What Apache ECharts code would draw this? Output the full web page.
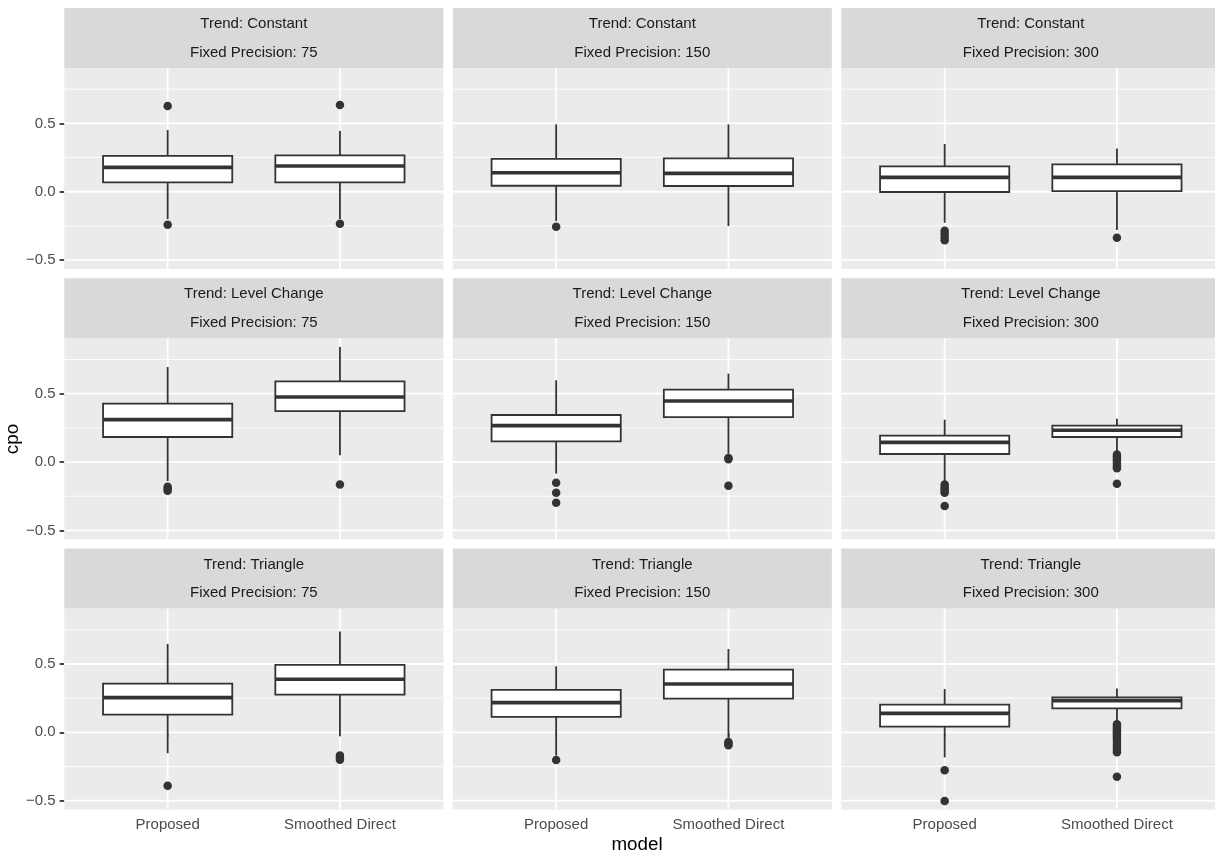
<!DOCTYPE html>
<html>
<head>
<meta charset="utf-8">
<script src="https://cdn.jsdelivr.net/npm/echarts@6/dist/echarts.min.js"></script>
<style>
html,body{margin:0;padding:0;background:#fff;}
#chart{width:1215px;height:856px;}
</style>
</head>
<body>
<div id="chart"></div>
<script>
// ---------------- data ----------------
const categories = ['Proposed', 'Smoothed Direct'];
const trends = ['Constant', 'Level Change', 'Triangle'];
const precisions = [75, 150, 300];
const yTicks = [-0.5, 0, 0.5];
const yMinorTicks = [-0.25, 0.25, 0.75];
const xTicks = [1, 2];

// box stats per panel: [lowerWhisker, Q1, median, Q3, upperWhisker] for Proposed, Smoothed Direct
const constant75 = [[-0.20, 0.069, 0.178, 0.263, 0.451], [-0.20, 0.069, 0.188, 0.266, 0.444]];
const constant150 = [[-0.214, 0.044, 0.139, 0.240, 0.493], [-0.251, 0.042, 0.134, 0.244, 0.493]];
const constant300 = [[-0.227, -0.002, 0.105, 0.186, 0.349], [-0.280, 0.005, 0.105, 0.200, 0.317]];
const level75 = [[-0.139, 0.183, 0.310, 0.427, 0.695], [0.049, 0.373, 0.476, 0.590, 0.841]];
const level150 = [[-0.085, 0.151, 0.266, 0.344, 0.598], [0.061, 0.329, 0.446, 0.530, 0.647]];
const level300 = [[-0.146, 0.059, 0.144, 0.193, 0.310], [0.069, 0.183, 0.232, 0.266, 0.317]];
const triangle75 = [[-0.153, 0.129, 0.254, 0.356, 0.647], [-0.029, 0.276, 0.388, 0.493, 0.737]];
const triangle150 = [[-0.170, 0.113, 0.217, 0.310, 0.483], [-0.048, 0.247, 0.354, 0.459, 0.610]];
const triangle300 = [[-0.183, 0.042, 0.139, 0.203, 0.317], [0.073, 0.176, 0.232, 0.256, 0.320]];

// outliers per panel: [Proposed values, Smoothed Direct values]
const constant75Out = [[0.627, -0.241], [0.634, -0.234]];
const constant150Out = [[-0.256], []];
const constant300Out = [[-0.285, -0.31, -0.335, -0.355], [-0.336]];
const level75Out = [[-0.18, -0.195, -0.21], [-0.165]];
const level150Out = [[-0.151, -0.224, -0.297], [0.03, 0.02, -0.173]];
const level300Out = [[-0.165, -0.18, -0.195, -0.21, -0.225, -0.322], [0.055, 0.04, 0.025, 0.01, -0.01, -0.03, -0.045, -0.158]];
const triangle75Out = [[-0.39], [-0.17, -0.185, -0.2]];
const triangle150Out = [[-0.202], [-0.07, -0.085, -0.095]];
const triangle300Out = [[-0.278, -0.502], [0.06, 0.045, 0.03, 0.015, 0, -0.015, -0.03, -0.05, -0.07, -0.09, -0.11, -0.13, -0.145, -0.325]];

const panelStats = [
  [constant75, constant150, constant300],
  [level75, level150, level300],
  [triangle75, triangle150, triangle300]
];
const panelOutliers = [
  [constant75Out, constant150Out, constant300Out],
  [level75Out, level150Out, level300Out],
  [triangle75Out, triangle150Out, triangle300Out]
];

// ---------------- layout ----------------
const LEFT0 = 64.3, PANEL_W = 379, GAP_X = 9.5;
const TOP0 = 8, STRIP_H = 60, PANEL_H = 201, GAP_Y = 9.3;
const Y_MIN = -0.565, Y_MAX = 0.905, X_MIN = 0.4, X_MAX = 2.6, BOX_HALF = 0.375;
const FONT = "'Liberation Sans', Arimo, Arial, Helvetica, sans-serif";
const TXT = 15, TITLE = 18.8;

const grids = [], xAxes = [], yAxes = [], series = [], graphics = [];
const fmtY = v => v.toFixed(1).replace('-', '\u2212');

let gi = 0;
for (let r = 0; r < 3; r++) {
  for (let c = 0; c < 3; c++) {
    const left = LEFT0 + c * (PANEL_W + GAP_X);
    const top = TOP0 + STRIP_H + r * (STRIP_H + PANEL_H + GAP_Y);
    grids.push({
      left: left, top: top, width: PANEL_W, height: PANEL_H,
      show: true, backgroundColor: '#ebebeb', borderWidth: 0,
      containLabel: false, outerBoundsMode: 'none'
    });
    xAxes.push({
      gridIndex: gi, type: 'value', min: X_MIN, max: X_MAX,
      axisLine: { show: false }, splitLine: { show: false },
      axisTick: { show: r === 2, customValues: xTicks, length: 4.7, lineStyle: { color: '#333333', width: 1.8 } },
      axisLabel: { show: r === 2, customValues: xTicks, formatter: v => categories[Math.round(v) - 1] || '',
        color: '#4d4d4d', fontSize: TXT, fontFamily: FONT, margin: 7.5 }
    });
    yAxes.push({
      gridIndex: gi, type: 'value', min: Y_MIN, max: Y_MAX,
      axisLine: { show: false }, splitLine: { show: false },
      axisTick: { show: c === 0, customValues: yTicks, length: 4.7, lineStyle: { color: '#333333', width: 1.8 } },
      axisLabel: { show: c === 0, customValues: yTicks, formatter: fmtY,
        color: '#4d4d4d', fontSize: TXT, fontFamily: FONT, margin: 8.8 }
    });

    // grid lines
    const gridData = [];
    yMinorTicks.forEach(v => gridData.push([1, v]));
    yTicks.forEach(v => gridData.push([0, v]));
    xTicks.forEach(v => gridData.push([2, v]));
    series.push({
      type: 'custom', xAxisIndex: gi, yAxisIndex: gi, z: 1, silent: true, clip: true,
      data: gridData,
      renderItem: function (params, api) {
        const kind = api.value(0), v = api.value(1);
        let p1, p2;
        if (kind === 2) { p1 = api.coord([v, Y_MIN]); p2 = api.coord([v, Y_MAX]); }
        else { p1 = api.coord([X_MIN, v]); p2 = api.coord([X_MAX, v]); }
        return {
          type: 'line',
          shape: { x1: p1[0], y1: p1[1], x2: p2[0], y2: p2[1] },
          style: { stroke: '#ffffff', lineWidth: kind === 1 ? 0.9 : 1.8 }
        };
      }
    });

    // boxes
    const stats = panelStats[r][c];
    const boxData = stats.map((s, i) => [xTicks[i]].concat(s));
    series.push({
      type: 'custom', xAxisIndex: gi, yAxisIndex: gi, z: 2, silent: true,
      data: boxData,
      encode: { x: 0, y: [1, 2, 3, 4, 5] },
      renderItem: function (params, api) {
        const x = api.value(0);
        const lo = api.value(1), q1 = api.value(2), med = api.value(3), q3 = api.value(4), hi = api.value(5);
        const pHi = api.coord([x, hi]), pQ3 = api.coord([x, q3]), pQ1 = api.coord([x, q1]), pLo = api.coord([x, lo]);
        const tl = api.coord([x - BOX_HALF, q3]), br = api.coord([x + BOX_HALF, q1]);
        const ml = api.coord([x - BOX_HALF, med]), mr = api.coord([x + BOX_HALF, med]);
        const stroke = '#333333';
        return {
          type: 'group',
          children: [
            { type: 'line', shape: { x1: pHi[0], y1: pHi[1], x2: pQ3[0], y2: pQ3[1] }, style: { stroke: stroke, lineWidth: 1.8 } },
            { type: 'line', shape: { x1: pQ1[0], y1: pQ1[1], x2: pLo[0], y2: pLo[1] }, style: { stroke: stroke, lineWidth: 1.8 } },
            { type: 'rect', shape: { x: tl[0], y: tl[1], width: br[0] - tl[0], height: br[1] - tl[1] }, style: { fill: '#ffffff', stroke: stroke, lineWidth: 1.8 } },
            { type: 'line', shape: { x1: ml[0], y1: ml[1], x2: mr[0], y2: mr[1] }, style: { stroke: stroke, lineWidth: 3.6 } }
          ]
        };
      }
    });

    // outliers
    const outs = panelOutliers[r][c];
    const outData = [];
    outs.forEach((arr, i) => arr.forEach(v => outData.push([xTicks[i], v])));
    series.push({
      type: 'scatter', xAxisIndex: gi, yAxisIndex: gi, z: 3, silent: true,
      symbol: 'circle', symbolSize: 8.5,
      itemStyle: { color: '#333333', opacity: 1 },
      data: outData
    });

    // strip
    const stripTop = top - STRIP_H;
    graphics.push({
      type: 'rect', silent: true, z: 0,
      shape: { x: left, y: stripTop, width: PANEL_W, height: STRIP_H },
      style: { fill: '#d9d9d9' }
    });
    graphics.push({
      type: 'text', silent: true, z: 1,
      x: left + PANEL_W / 2, y: stripTop + 16,
      style: { text: 'Trend: ' + trends[r], fill: '#1a1a1a', font: TXT + 'px ' + FONT, align: 'center', verticalAlign: 'middle' }
    });
    graphics.push({
      type: 'text', silent: true, z: 1,
      x: left + PANEL_W / 2, y: stripTop + 44.5,
      style: { text: 'Fixed Precision: ' + precisions[c], fill: '#1a1a1a', font: TXT + 'px ' + FONT, align: 'center', verticalAlign: 'middle' }
    });
    gi++;
  }
}

// axis titles
graphics.push({
  type: 'text', silent: true, x: 13, y: 439, rotation: Math.PI / 2,
  style: { text: 'cpo', fill: '#000000', font: TITLE + 'px ' + FONT, align: 'center', verticalAlign: 'middle' }
});
graphics.push({
  type: 'text', silent: true, x: 637, y: 845,
  style: { text: 'model', fill: '#000000', font: TITLE + 'px ' + FONT, align: 'center', verticalAlign: 'middle' }
});

const chart = echarts.init(document.getElementById('chart'), null, { renderer: 'canvas' });
chart.setOption({
  animation: false,
  backgroundColor: '#ffffff',
  grid: grids,
  xAxis: xAxes,
  yAxis: yAxes,
  series: series,
  graphic: graphics
});
</script>
</body>
</html>
